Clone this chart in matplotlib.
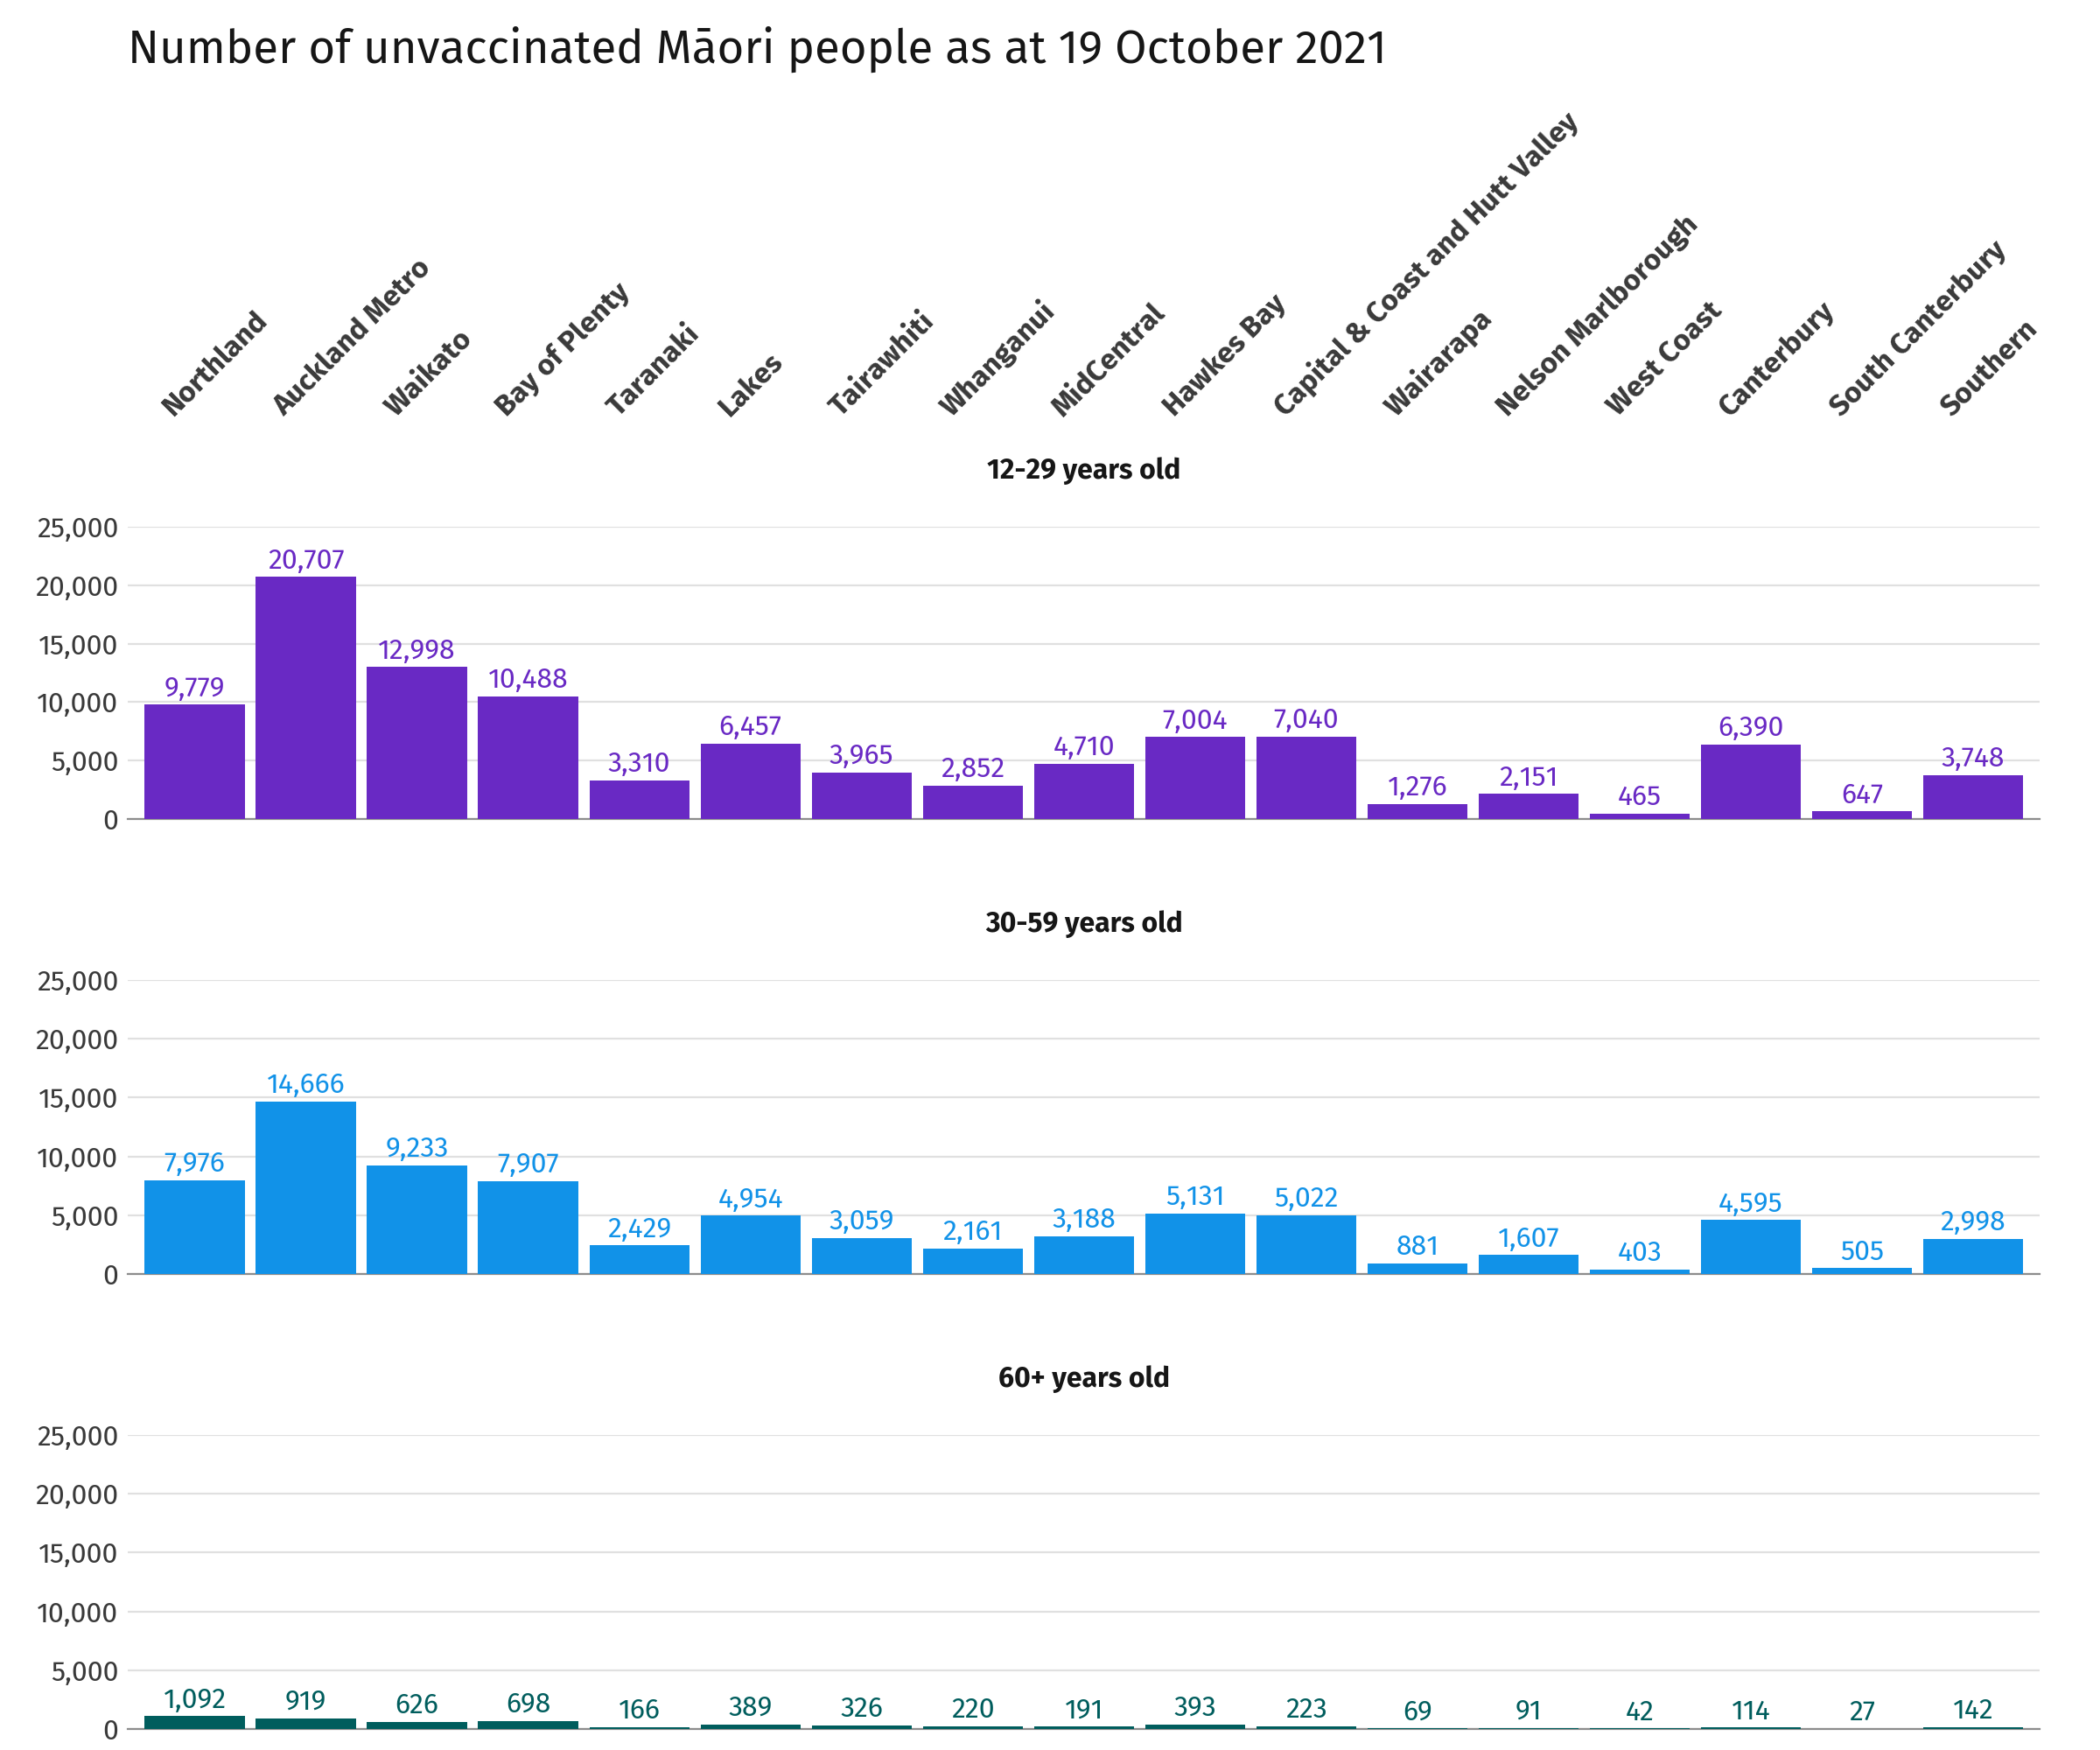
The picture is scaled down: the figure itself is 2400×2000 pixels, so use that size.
import matplotlib
matplotlib.use("Agg")
import matplotlib.pyplot as plt
from matplotlib.ticker import FuncFormatter, MultipleLocator

plt.rcParams['font.family'] = ['Fira Sans', 'Open Sans', 'DejaVu Sans']

regions = ["Northland", "Auckland Metro", "Waikato", "Bay of Plenty", "Taranaki", "Lakes",
           "Tairawhiti", "Whanganui", "MidCentral", "Hawkes Bay", "Capital & Coast and Hutt Valley",
           "Wairarapa", "Nelson Marlborough", "West Coast", "Canterbury", "South Canterbury", "Southern"]
age_groups = ["12-29 years old", "30-59 years old", "60+ years old"]
v_12_29 = [9779, 20707, 12998, 10488, 3310, 6457, 3965, 2852, 4710, 7004, 7040, 1276, 2151, 465, 6390, 647, 3748]
v_30_59 = [7976, 14666, 9233, 7907, 2429, 4954, 3059, 2161, 3188, 5131, 5022, 881, 1607, 403, 4595, 505, 2998]
v_60 = [1092, 919, 626, 698, 166, 389, 326, 220, 191, 393, 223, 69, 91, 42, 114, 27, 142]
series = [v_12_29, v_30_59, v_60]
colors = ["#6929c4", "#1192e8", "#005d5d"]

fig = plt.figure(figsize=(12, 10), dpi=200)
fig.text(0.061, 0.985, "Number of unvaccinated Māori people as at 19 October 2021",
         fontsize=19, va='top', ha='left', color='#161616')

w = 0.923 * 1430 / 1450
rects = [(0.061, 0.532, w, 0.167), (0.061, 0.272, w, 0.168), (0.061, 0.012, w, 0.168)]
x = list(range(len(regions)))
for k, (vals, col, title, r) in enumerate(zip(series, colors, age_groups, rects)):
    ax = fig.add_axes(r)
    ax.bar(x, vals, width=0.9, color=col, zorder=3)
    for xi, v in zip(x, vals):
        ax.text(xi, v + 250, f"{v:,}", ha='center', va='bottom', fontsize=11.5, color=col, zorder=4)
    ax.set_xlim(-0.6, len(regions) - 0.4)
    ax.set_ylim(0, 25000)
    ax.yaxis.set_major_locator(MultipleLocator(5000))
    ax.yaxis.set_major_formatter(FuncFormatter(lambda v, p: f"{int(v):,}"))
    ax.grid(axis='y', color='#e0e0e0', linewidth=0.8, zorder=0)
    ax.set_xticks([])
    for s in ['top', 'right', 'left']:
        ax.spines[s].set_visible(False)
    ax.spines['bottom'].set_color('#8d8d8d')
    ax.tick_params(axis='y', length=0, labelsize=11.5, labelcolor='#393939', pad=4)
    ax.text(0.5, 1.19, title, transform=ax.transAxes, ha='center', va='center',
            fontsize=11.5, fontweight='bold', color='#161616')
    if k == 0:
        for xi, name in zip(x, regions):
            ax.text(xi - 0.15, 1.36, name, transform=ax.get_xaxis_transform(),
                    rotation=45, rotation_mode='anchor', ha='left', va='bottom',
                    fontsize=12, fontweight='bold', color='#393939')

fig.savefig("out.png", dpi=200)
